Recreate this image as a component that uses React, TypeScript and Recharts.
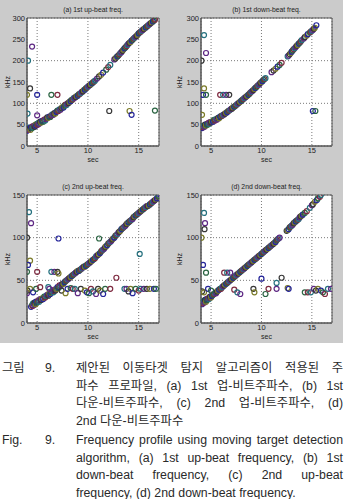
import { ScatterChart, Scatter, XAxis, YAxis, ZAxis, CartesianGrid, ReferenceArea, Cell } from "recharts";

// time axis (sec) and frequency axis (kHz) ticks
const xTicks = [5, 10, 15];
const yTicksFirst = [0, 50, 100, 150, 200, 250, 300];
const yTicksSecond = [0, 50, 100, 150];

// (a) 1st up-beat freq. [sec, kHz]
const upBeat1Track = [
  [4.0, 36], [4.05, 40], [4.1, 38], [4.15, 43], [4.2, 39], [4.3, 42], [4.35, 38], [4.4, 44], [4.5, 42], [4.55, 46],
  [4.6, 44], [4.7, 48], [4.75, 45], [4.85, 50], [4.9, 48], [5.0, 52], [5.05, 50], [5.15, 54], [5.2, 52], [5.3, 57],
  [5.4, 55], [5.5, 59], [5.6, 57], [5.7, 62], [5.8, 60], [5.9, 64], [6.0, 67], [6.1, 66], [6.2, 69], [6.3, 68],
  [6.4, 72], [6.5, 74], [6.6, 73], [6.7, 77], [6.8, 76], [6.9, 80], [7.0, 83], [7.1, 82], [7.2, 86], [7.3, 85],
  [7.4, 89], [7.5, 91], [7.6, 90], [7.7, 95], [7.8, 97], [7.9, 96], [8.0, 100], [8.1, 101], [8.2, 104], [8.3, 105],
  [8.4, 108], [8.5, 109], [8.6, 112], [8.7, 113], [8.8, 115], [8.9, 117], [9.0, 118], [9.1, 121], [9.2, 122], [9.3, 124],
  [9.4, 127], [9.5, 128], [9.6, 131], [9.7, 132], [9.8, 135], [9.9, 137], [10.0, 139], [10.1, 141], [10.2, 143], [10.3, 145],
  [10.4, 147], [10.5, 149], [10.6, 151], [10.7, 153], [10.9, 158], [11.1, 163], [11.3, 167], [11.5, 172], [11.8, 179], [12.0, 185],
  [12.2, 190], [12.6, 203], [12.7, 205], [12.8, 208], [12.9, 210], [13.0, 212], [13.1, 215], [13.2, 218], [13.3, 220], [13.4, 223],
  [13.5, 226], [13.6, 229], [13.7, 231], [13.8, 234], [13.9, 237], [14.0, 240], [14.1, 242], [14.2, 244], [14.3, 247], [14.4, 249],
  [14.5, 252], [14.6, 254], [14.7, 256], [14.8, 258], [14.9, 261], [15.0, 264], [15.1, 266], [15.2, 268], [15.3, 270], [15.4, 272],
  [15.5, 274], [15.6, 276], [15.7, 278], [15.8, 280], [15.9, 282], [16.0, 284], [16.1, 286], [16.2, 288], [16.3, 290], [16.4, 292],
  [16.5, 294], [16.6, 296],
];
const upBeat1Stray = [
  [4.1, 200], [4.5, 233], [4.3, 135], [4.0, 120], [5.0, 120], [6.4, 120], [7.0, 120], [4.05, 76], [5.0, 72],
  [12.1, 82], [14.1, 82], [14.3, 73], [16.6, 83],
];

// (b) 1st down-beat freq.
const downBeat1Track = [
  [4.1, 42], [4.15, 46], [4.2, 44], [4.3, 48], [4.35, 45], [4.4, 50], [4.5, 48], [4.6, 52], [4.65, 50], [4.75, 54],
  [4.8, 52], [4.9, 56], [5.0, 55], [5.1, 58], [5.2, 57], [5.3, 61], [5.4, 60], [5.5, 63], [5.6, 62], [5.7, 66],
  [5.8, 65], [5.9, 69], [6.0, 70], [6.1, 71], [6.2, 73], [6.3, 74], [6.4, 76], [6.5, 78], [6.6, 79], [6.7, 82],
  [6.8, 83], [6.9, 85], [7.0, 87], [7.1, 88], [7.2, 91], [7.3, 92], [7.4, 94], [7.5, 96], [7.6, 98], [7.7, 100],
  [7.8, 102], [7.9, 104], [8.0, 106], [8.1, 108], [8.2, 110], [8.3, 112], [8.4, 114], [8.5, 116], [8.6, 118], [8.7, 120],
  [8.8, 122], [8.9, 125], [9.0, 127], [9.1, 129], [9.2, 131], [9.3, 134], [9.4, 136], [9.5, 138], [9.6, 141], [9.7, 143],
  [9.8, 145], [9.9, 148], [10.0, 150], [10.1, 152], [10.2, 155], [10.3, 157], [10.4, 159], [11.0, 173], [11.2, 177], [11.4, 181],
  [11.6, 186], [11.8, 190], [12.0, 195], [12.6, 210], [12.7, 212], [12.8, 215], [12.9, 218], [13.0, 221], [13.1, 224], [13.2, 227],
  [13.3, 229], [13.4, 232], [13.5, 235], [13.6, 237], [13.7, 240], [13.8, 242], [13.9, 245], [14.0, 248], [14.2, 252], [14.3, 255],
  [14.5, 259], [14.6, 262], [14.8, 266], [14.9, 268], [15.0, 270], [15.1, 272], [15.2, 275], [15.3, 277], [15.45, 283],
];
const downBeat1Stray = [
  [4.3, 260], [4.5, 218], [4.05, 200], [4.3, 135], [4.2, 120], [4.5, 120], [5.9, 120], [6.2, 120], [6.5, 120],
  [6.8, 120], [4.1, 73], [15.1, 82], [15.35, 82],
];

// (c) 2nd up-beat freq.
const upBeat2Track = [
  [4.4, 19], [4.5, 21], [4.55, 20], [4.6, 23], [4.7, 21], [4.75, 24], [4.85, 22], [4.9, 25], [5.0, 24], [5.1, 26],
  [5.2, 25], [5.3, 28], [5.4, 27], [5.5, 29], [5.6, 28], [5.7, 31], [5.8, 30], [5.9, 32], [6.0, 33], [6.1, 32],
  [6.2, 35], [6.3, 34], [6.4, 36], [6.5, 37], [6.6, 36], [6.7, 39], [6.8, 38], [6.9, 40], [7.0, 42], [7.1, 41],
  [7.2, 44], [7.3, 43], [7.4, 45], [7.5, 46], [7.6, 46], [7.7, 48], [7.8, 49], [7.9, 50], [8.0, 51], [8.1, 52],
  [8.2, 53], [8.3, 54], [8.4, 55], [8.5, 56], [8.6, 57], [8.7, 58], [8.8, 59], [8.9, 60], [9.0, 61], [9.1, 61],
  [9.2, 62], [9.3, 63], [9.4, 64], [9.5, 65], [9.6, 66], [9.7, 66], [9.8, 67], [9.9, 68], [10.0, 69], [10.1, 70],
  [10.2, 71], [10.3, 72], [10.4, 73], [10.5, 74], [10.6, 75], [10.7, 76], [10.8, 78], [10.9, 79], [11.0, 80], [11.1, 81],
  [11.2, 82], [11.3, 84], [11.4, 85], [11.5, 86], [11.6, 87], [11.7, 89], [11.8, 90], [11.9, 91], [12.0, 93], [12.1, 94],
  [12.2, 95], [12.3, 96], [12.4, 98], [12.5, 99], [12.6, 100], [12.7, 102], [12.8, 103], [12.9, 104], [13.0, 106], [13.1, 107],
  [13.2, 108], [13.3, 110], [13.4, 111], [13.5, 112], [13.6, 113], [13.7, 114], [13.8, 116], [13.9, 117], [14.0, 118], [14.1, 119],
  [14.2, 120], [14.3, 121], [14.4, 122], [14.5, 124], [14.6, 125], [14.7, 126], [14.8, 127], [14.9, 128], [15.0, 129], [15.1, 130],
  [15.2, 131], [15.3, 132], [15.4, 133], [15.5, 134], [15.6, 135], [15.7, 136], [15.8, 137], [15.9, 137], [16.0, 138], [16.1, 139],
  [16.2, 140], [16.3, 141], [16.4, 142], [16.5, 143], [16.6, 144], [16.7, 145], [16.8, 146], [16.95, 149],
];
const upBeat2Stray = [
  [4.2, 130], [4.4, 117], [4.0, 100], [4.3, 73], [4.1, 68], [4.0, 60], [5.0, 60], [6.4, 60], [6.7, 60], [7.0, 60],
  [7.1, 58], [7.1, 99], [11.1, 99], [12.8, 53], [15.1, 81], [4.0, 35], [4.05, 38], [4.3, 40], [4.6, 36], [4.9, 40],
  [5.3, 42], [6.1, 42], [6.2, 40], [7.4, 38], [7.8, 35], [8.0, 40], [8.3, 41], [8.5, 40], [8.7, 40], [9.0, 35],
  [9.3, 40], [9.7, 38], [9.9, 36], [10.1, 35], [10.3, 40], [10.5, 37], [10.8, 34], [11.0, 40], [11.2, 38], [11.5, 34],
  [11.7, 40], [12.2, 40], [13.6, 40], [13.8, 40], [14.0, 37], [14.2, 40], [14.4, 35], [14.7, 40], [15.0, 38], [15.2, 40],
  [15.5, 40], [15.8, 40], [16.1, 40], [16.5, 40], [16.7, 40],
];

// (d) 2nd down-beat freq.
const downBeat2Track = [
  [4.1, 22], [4.15, 25], [4.2, 23], [4.3, 26], [4.35, 24], [4.4, 27], [4.5, 25], [4.55, 28], [4.6, 27], [4.7, 29],
  [4.8, 28], [4.85, 30], [4.9, 31], [5.0, 30], [5.1, 32], [5.2, 33], [5.3, 34], [5.4, 35], [5.5, 35], [5.6, 37],
  [5.7, 38], [5.8, 39], [5.9, 40], [6.0, 40], [6.1, 42], [6.2, 43], [6.3, 44], [6.4, 45], [6.5, 46], [6.6, 47],
  [6.7, 48], [6.8, 49], [6.9, 50], [7.0, 51], [7.1, 52], [7.2, 53], [7.3, 54], [7.4, 55], [7.5, 56], [7.6, 57],
  [7.7, 58], [7.8, 59], [7.9, 60], [8.0, 61], [8.1, 62], [8.2, 63], [8.3, 64], [8.4, 65], [8.5, 66], [8.6, 67],
  [8.7, 68], [8.8, 69], [8.9, 70], [9.0, 71], [9.1, 72], [9.2, 73], [9.3, 74], [9.4, 75], [9.5, 76], [9.6, 77],
  [9.7, 78], [9.8, 79], [9.9, 80], [10.0, 81], [10.1, 82], [10.2, 83], [10.3, 84], [10.4, 85], [10.5, 86], [10.6, 87],
  [10.7, 88], [10.8, 89], [10.9, 90], [11.0, 91], [11.1, 92], [11.2, 93], [11.3, 94], [11.4, 95], [11.5, 97], [11.6, 98],
  [11.7, 99], [11.8, 100], [12.5, 108], [12.6, 109], [12.7, 110], [12.8, 112], [12.9, 113], [13.0, 114], [13.1, 115], [13.2, 117],
  [13.3, 118], [13.4, 119], [13.5, 120], [13.6, 121], [13.7, 122], [13.8, 124], [13.9, 125], [14.0, 126], [14.1, 127], [14.3, 129],
  [14.5, 131], [14.8, 135], [15.0, 138], [15.1, 139], [15.3, 142], [15.5, 144], [15.6, 146], [15.8, 148], [15.9, 150],
];
const downBeat2Stray = [
  [4.3, 129], [4.4, 117], [4.35, 110], [4.05, 100], [4.2, 68], [4.5, 59], [6.3, 59], [6.6, 59], [6.9, 59], [4.1, 37],
  [4.3, 36], [4.7, 40], [5.0, 38], [7.3, 39], [7.6, 36], [7.9, 34], [9.2, 40], [9.3, 36], [10.0, 52], [10.4, 34],
  [10.7, 40], [11.5, 47], [11.5, 40], [12.0, 53], [12.6, 41], [12.7, 40], [14.3, 36], [14.6, 36], [14.9, 36], [15.2, 40],
  [15.4, 38], [15.6, 40], [15.9, 38], [16.1, 36], [16.3, 34], [16.6, 40], [16.9, 40],
];

// muted MATLAB colour order
const palette = ["#25259a", "#2a6442", "#7e2a40", "#24707e", "#5e2884", "#363636", "#7a7a28"];
const FONT = "'Liberation Sans', Arial, sans-serif";

const toPts = (arr: number[][]) => arr.map(([x, y]) => ({ x, y }));

const Ring = (p: any) => <circle cx={p.cx} cy={p.cy} r={2.5} fill="none" stroke={p.stroke} strokeWidth={1.2} />;

interface PanelProps {
  title: string;
  track: number[][];
  stray: number[][];
  yMax: number;
  yTicks: number[];
  left: number;
  top: number;
  yWidth: number;
  rightGap: number;
}

const Panel = ({ title, track, stray, yMax, yTicks, left, top, yWidth, rightGap }: PanelProps) => {
  const W = 172;
  const H = 172;
  const plotLeft = left + yWidth;
  const plotRight = left + W - rightGap;
  const mid = (plotLeft + plotRight) / 2;
  const tick = { fontSize: 7.5, fill: "#222", fontFamily: FONT };
  return (
    <>
      <div style={{ position: "absolute", left: mid - 60, top: top - 12, width: 120, textAlign: "center", fontSize: 6.8, fontFamily: FONT, color: "#222", lineHeight: "8px" }}>
        {title}
      </div>
      <div style={{ position: "absolute", left: mid - 20, top: top + 138, width: 40, textAlign: "center", fontSize: 7, fontFamily: FONT, color: "#222", lineHeight: "8px" }}>
        sec
      </div>
      <div style={{ position: "absolute", left: left - 12, top: top + 60, width: 40, textAlign: "center", fontSize: 7, fontFamily: FONT, color: "#222", lineHeight: "8px", transform: "rotate(-90deg)" }}>
        kHz
      </div>
      <div style={{ position: "absolute", left, top: top - 18 }}>
        <ScatterChart width={W} height={H} margin={{ top: 18, right: rightGap, left: 0, bottom: 0 }}>
          <CartesianGrid fill="#fff" stroke="#7a7a7a" strokeDasharray="1 2" />
          <XAxis type="number" dataKey="x" domain={[4, 17]} ticks={xTicks} allowDataOverflow height={26}
            tickLine={false} tickSize={1} tickMargin={1} axisLine={{ stroke: "#555" }} tick={tick} />
          <YAxis type="number" dataKey="y" domain={[0, yMax]} ticks={yTicks} allowDataOverflow width={yWidth}
            tickLine={false} tickSize={1} tickMargin={1} axisLine={{ stroke: "#555" }} tick={tick} />
          <ZAxis range={[20, 20]} />
          <ReferenceArea x1={4} x2={17} y1={0} y2={yMax} fill="none" stroke="#555" strokeWidth={1} ifOverflow="visible" />
          <Scatter data={toPts(track)} shape={Ring} isAnimationActive={false}>
            {track.map((_, i) => <Cell key={i} stroke={palette[i % palette.length]} />)}
          </Scatter>
          <Scatter data={toPts(stray)} shape={Ring} isAnimationActive={false}>
            {stray.map((_, i) => <Cell key={i} stroke={palette[(i + 3) % palette.length]} />)}
          </Scatter>
        </ScatterChart>
      </div>
    </>
  );
};

const capFont = "'Liberation Sans', 'Noto Sans CJK KR', sans-serif";
const koLines = [
  "제안된 이동타겟 탐지 알고리즘이 적용된 주",
  "파수 프로파일, (a) 1st 업-비트주파수, (b) 1st",
  "다운-비트주파수, (c) 2nd 업-비트주파수, (d)",
  "2nd 다운-비트주파수",
];
const enLines = [
  "Frequency profile using moving target detection",
  "algorithm, (a) 1st up-beat frequency, (b) 1st",
  "down-beat frequency, (c) 2nd up-beat",
  "frequency, (d) 2nd down-beat frequency.",
];

const Caption = ({ label, lines, top }: { label: string; lines: string[]; top: number }) => (
  <div style={{ position: "absolute", left: 2, top, width: 341, fontFamily: capFont, fontSize: 12.3, color: "#2a2a2a", lineHeight: "17.6px" }}>
    <span style={{ position: "absolute", left: 0, top: 0 }}>{label}</span>
    <span style={{ position: "absolute", left: 43, top: 0 }}>9.</span>
    {lines.map((l, i) => (
      <div key={i} style={{ marginLeft: 74, textAlign: "justify", textAlignLast: i === lines.length - 1 ? "left" : "justify", whiteSpace: "nowrap" }}>
        {l}
      </div>
    ))}
  </div>
);

export default function App() {
  return (
    <div style={{ position: "absolute", left: 0, top: 0, width: 345, height: 499, background: "#fff", overflow: "hidden" }}>
      <div style={{ position: "absolute", left: 0, top: 0, width: 343, height: 343, background: "#cbcbcb" }} />
      <Panel title="(a) 1st up-beat freq." track={upBeat1Track} stray={upBeat1Stray} yMax={300} yTicks={yTicksFirst}
        left={0} top={18} yWidth={27} rightGap={13} />
      <Panel title="(b) 1st down-beat freq." track={downBeat1Track} stray={downBeat1Stray} yMax={300} yTicks={yTicksFirst}
        left={172} top={18} yWidth={29} rightGap={12} />
      <Panel title="(c) 2nd up-beat freq." track={upBeat2Track} stray={upBeat2Stray} yMax={150} yTicks={yTicksSecond}
        left={0} top={195} yWidth={27} rightGap={13} />
      <Panel title="(d) 2nd down-beat freq." track={downBeat2Track} stray={downBeat2Stray} yMax={150} yTicks={yTicksSecond}
        left={172} top={195} yWidth={29} rightGap={12} />
      <Caption label="그림" lines={koLines} top={360} />
      <Caption label="Fig." lines={enLines} top={432} />
    </div>
  );
}
